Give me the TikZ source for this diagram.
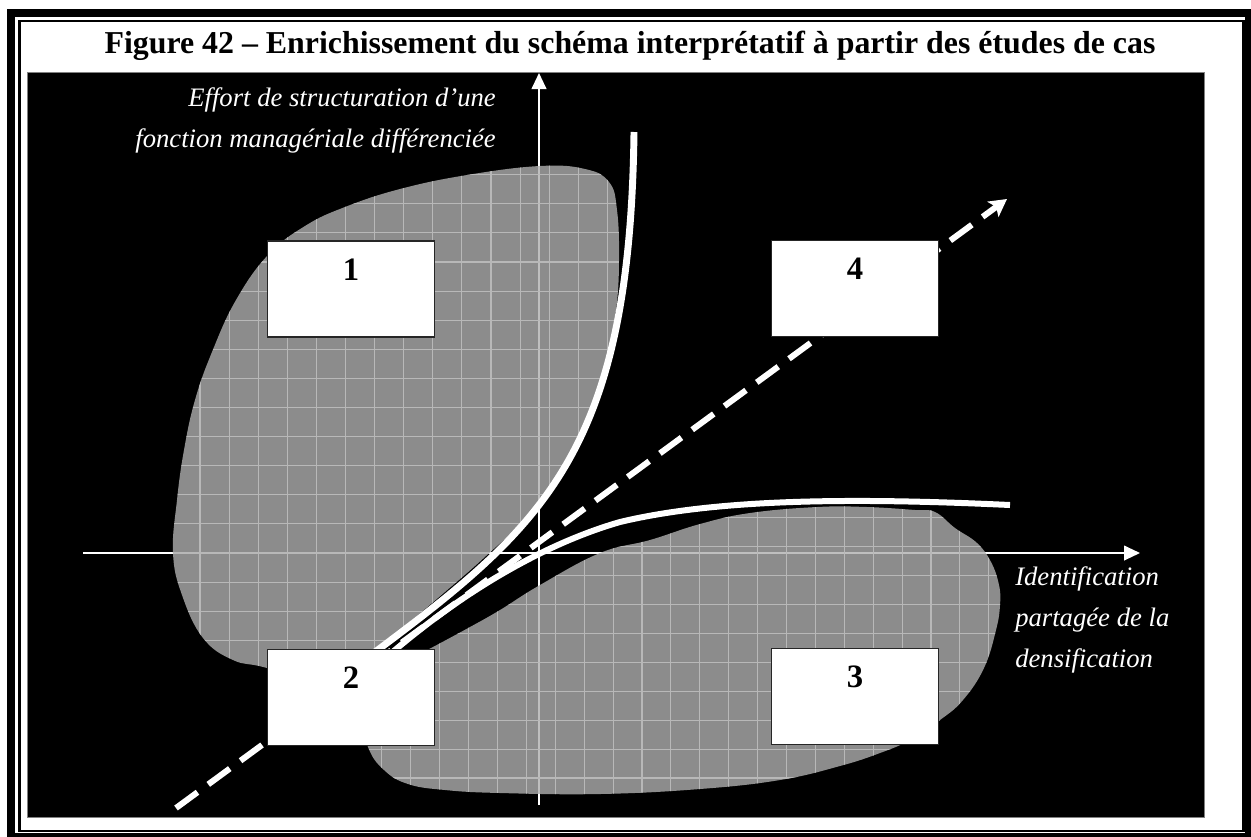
\documentclass[tikz,border=0pt]{standalone}
\usepackage{fontspec}
\setmainfont{Liberation Serif}
\usetikzlibrary{arrows.meta,calc,positioning}
\definecolor{blobgray}{gray}{0.69}
\definecolor{gridgray}{gray}{0.72}
\definecolor{panelline}{gray}{0.5}

\begin{document}
\begin{tikzpicture}[x=0.75pt, y=-0.75pt,
    box/.style={draw=black!85, line width=1.1pt, fill=white, minimum width=125.25pt, minimum height=72pt, inner sep=0pt},
    numlbl/.style={font=\fontsize{24.5}{29}\selectfont\bfseries, anchor=base, inner sep=0pt},
    axis/.style={draw=white, line width=1.5pt, -{Triangle[length=12pt, width=11pt]}},
    dasharrow/.style={draw=white, line width=4.5pt, dash pattern=on 20pt off 10pt, -{Stealth[length=13pt, width=14pt, inset=3pt]}},
    trend/.style={draw=white, line width=5pt},
    gridline/.style={gridgray, line width=0.8pt},
    axislbl/.style={text=white, font=\fontsize{20}{30.5}\selectfont\itshape, inner sep=0pt}]
    \useasboundingbox (0,0) rectangle (1251,836);

    % Frame and title
    \draw[line width=6pt] (11,13) rectangle (1249,837);
    \draw[line width=1.9pt] (19.5,21) rectangle (1243.5,831);
    \node[font=\fontsize{23.9}{28}\selectfont\bfseries, anchor=base, inner sep=0pt] (title) at (630,53)
        {Figure 42 – Enrichissement du schéma interprétatif à partir des études de cas};
    \filldraw[fill=black, draw=panelline, line width=0.75pt] (27,72) rectangle (1204,817);

    % Axes
    \coordinate (xs) at (83,553);
    \coordinate (xe) at (1140,553);
    \coordinate (ys) at (539,805);
    \coordinate (ye) at (539,73);
    \draw[axis] (xs) -- (xe);
    \draw[axis] (ys) -- (ye);

    % Zones
    \def\zoneone{plot[smooth cycle, tension=0.7] coordinates {(540,166) (585,169) (609,182) (617,210) (619,260) (616,310) (606,360) (592,410) (567,460) (538,506) (486,556) (438,598) (380,648) (340,690) (267,668) (233,660) (203,638) (182,595) (173,553) (177,500) (184,450) (195,400) (212,352) (236,300) (268,255) (305,226) (345,207) (400,189) (467,175)}}
    \def\zonetwo{plot[smooth cycle, tension=0.7] coordinates {(433,647) (470,627) (500,610) (540,585) (600,553) (650,540) (700,524) (750,513) (817,507) (867,507) (915,510) (935,512) (955,528) (977,543) (991,562) (999,585) (1000,605) (996,630) (984,668) (963,700) (940,720) (910,740) (880,753) (840,766) (780,780) (700,789) (600,794) (500,793) (445,790) (408,784) (384,770) (368,747) (360,710) (390,670)}}
    \fill[blobgray, fill opacity=0.8] \zoneone;
    \begin{scope}
        \clip \zoneone;
        \foreach \i in {0,...,16} \draw[gridline] ({170.9+29.1*\i},140) -- ++(0,560);
        \foreach \j in {0,...,19} \draw[gridline] (160,{145.6+29.1*\j}) -- ++(480,0);
    \end{scope}
    \fill[blobgray, fill opacity=0.8] \zonetwo;
    \begin{scope}
        \clip \zonetwo;
        \foreach \i in {0,...,23} \draw[gridline] ({353+28.9*\i},480) -- ++(0,330);
        \foreach \j in {0,...,11} \draw[gridline] (340,{489+28.9*\j}) -- ++(680,0);
    \end{scope}

    % Trajectories
    \coordinate (ds) at (176,808);
    \coordinate (de) at (1007,199);
    \draw[dasharrow] (ds) -- (de);
    \coordinate (ua) at (634,132);
    \coordinate (ub) at (375,652);
    \coordinate (la) at (1010,505);
    \coordinate (lm) at (620,522);
    \coordinate (lb) at (395,650);
    \draw[trend, line width=5.2pt] (ua) .. controls (630,450) and (545,525) .. (ub) -- ++(-22,18);
    \draw[trend, line width=4.5pt] (la) .. controls (860,498) and (720,498) .. (lm)
        .. controls (540,545) and (460,595) .. (lb) -- ++(-22,18);

    % Quadrants
    \foreach \nm/\cx/\cy in {1/351/289, 2/351/697.5, 3/855/696.5, 4/855/288.5} {
        \node[box] (box\nm) at (\cx,\cy) {};
        \node[numlbl] (num\nm) at ($(box\nm.north)+(0,40)$) {\nm};
    }

    % Axis labels
    \node[axislbl, align=right, anchor=base east] (ylab) at (496,147) {Effort de structuration d’une\\fonction managériale différenciée};
    \node[axislbl, align=left, anchor=base west] (xlab) at (1015,667) {Identification\\partagée de la\\densification};
\end{tikzpicture}
\end{document}
